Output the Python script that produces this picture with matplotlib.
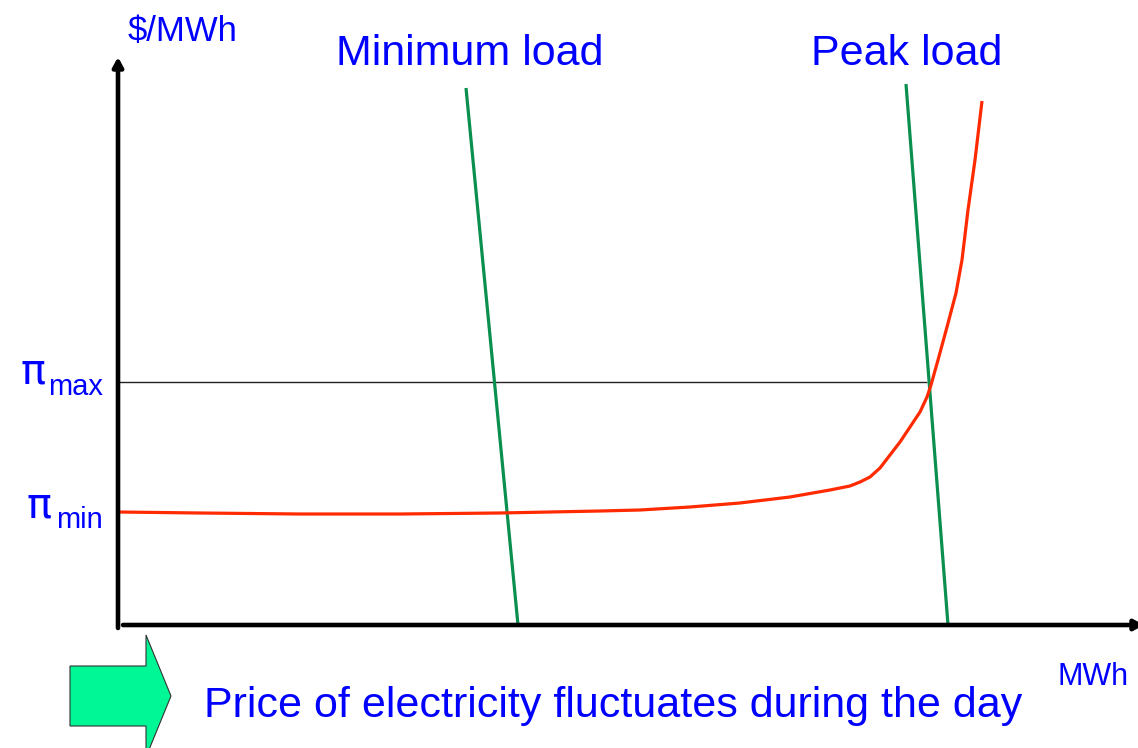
import matplotlib
matplotlib.use("Agg")
import matplotlib.pyplot as plt
from matplotlib.patches import Polygon
from matplotlib.transforms import blended_transform_factory

# ---- data (units: arbitrary MWh / $ per MWh) ----
supply_q = [0, 82, 182, 282, 382, 482, 522, 572, 622, 672, 712, 732, 742,
            752, 762, 772, 782, 792, 802, 809, 813, 820, 829, 838, 844, 850,
            857, 864]
supply_p = [113, 112, 111, 111, 112, 114, 115, 118, 122, 128, 135, 139, 143,
            148, 157, 170, 183, 198, 213, 228, 240, 265, 298, 332, 365, 415,
            465, 524]

min_load_q = [348, 400]
min_load_p = [537, 0]
peak_load_q = [788, 830]
peak_load_p = [541, 0]

pi_max = 243
pi_min = 113
pi_max_q_end = 809

BLUE = "#0000FF"
RED = "#FF2A00"
GREEN = "#0A8F4E"
FONT = "Liberation Sans"

W, H = 1138, 748
fig = plt.figure(figsize=(W / 100, H / 100), dpi=100)
fig.patch.set_facecolor("white")

# axes whose origin sits at the corner of the drawn axes
ax = fig.add_axes([118 / W, (H - 625) / H, 1020 / W, 565 / H])
ax.set_xlim(0, 1020)
ax.set_ylim(0, 565)
ax.axis("off")

# axes lines with arrows
ax.annotate("", xy=(0, 568), xytext=(0, -3),
            arrowprops=dict(arrowstyle="-|>,head_length=0.55,head_width=0.3",
                            lw=3.3, color="black", shrinkA=0, shrinkB=0),
            annotation_clip=False)
ax.annotate("", xy=(1026, 0), xytext=(5, 0),
            arrowprops=dict(arrowstyle="-|>,head_length=0.55,head_width=0.3",
                            lw=3.3, color="black", shrinkA=0, shrinkB=0),
            annotation_clip=False)

# price level line
ax.plot([0, pi_max_q_end], [pi_max, pi_max], color="#222222", lw=1.0,
        solid_capstyle="butt")

# demand lines
ax.plot(min_load_q, min_load_p, color=GREEN, lw=2.3, solid_capstyle="butt")
ax.plot(peak_load_q, peak_load_p, color=GREEN, lw=2.3, solid_capstyle="butt")

# supply curve
ax.plot(supply_q, supply_p, color=RED, lw=2.3, solid_joinstyle="round",
        solid_capstyle="butt")

def fx(px):
    return px / W

def fy(py):
    return 1 - py / H

# titles / labels
fig.text(fx(128), fy(41), "$/MWh", color=BLUE, fontsize=25, family=FONT,
         va="baseline", ha="left")
fig.text(fx(470), fy(65), "Minimum load", color=BLUE, fontsize=31,
         family=FONT, va="baseline", ha="center")
fig.text(fx(907), fy(65), "Peak load", color=BLUE, fontsize=31,
         family=FONT, va="baseline", ha="center")
fig.text(fx(1058), fy(685), "MWh", color=BLUE, fontsize=22, family=FONT,
         va="baseline", ha="left")
fig.text(fx(204), fy(717), "Price of electricity fluctuates during the day",
         color=BLUE, fontsize=31, family=FONT, va="baseline", ha="left")

# pi labels, y placed from data levels
tr = blended_transform_factory(fig.transFigure, ax.transData)
ax.text(fx(21), pi_max - 2, "\u03c0", transform=tr, color=BLUE, fontsize=30,
        family="DejaVu Sans", va="baseline", ha="left")
ax.text(fx(48), pi_max - 13, "max", transform=tr, color=BLUE, fontsize=21,
        family=FONT, va="baseline", ha="left")
ax.text(fx(26), pi_min - 6, "\u03c0", transform=tr, color=BLUE, fontsize=30,
        family="DejaVu Sans", va="baseline", ha="left")
ax.text(fx(56), pi_min - 16, "min", transform=tr, color=BLUE, fontsize=21,
        family=FONT, va="baseline", ha="left")

# block arrow (decoration)
arrow_px = [(70, 666), (146, 666), (146, 635), (171, 696), (146, 757),
            (146, 726), (70, 726)]
arrow = Polygon([(fx(x), fy(y)) for x, y in arrow_px], closed=True,
                transform=fig.transFigure, facecolor="#00F795",
                edgecolor="#333333", lw=0.8)
fig.patches.append(arrow)

fig.savefig("out.png", dpi=100, facecolor="white")
